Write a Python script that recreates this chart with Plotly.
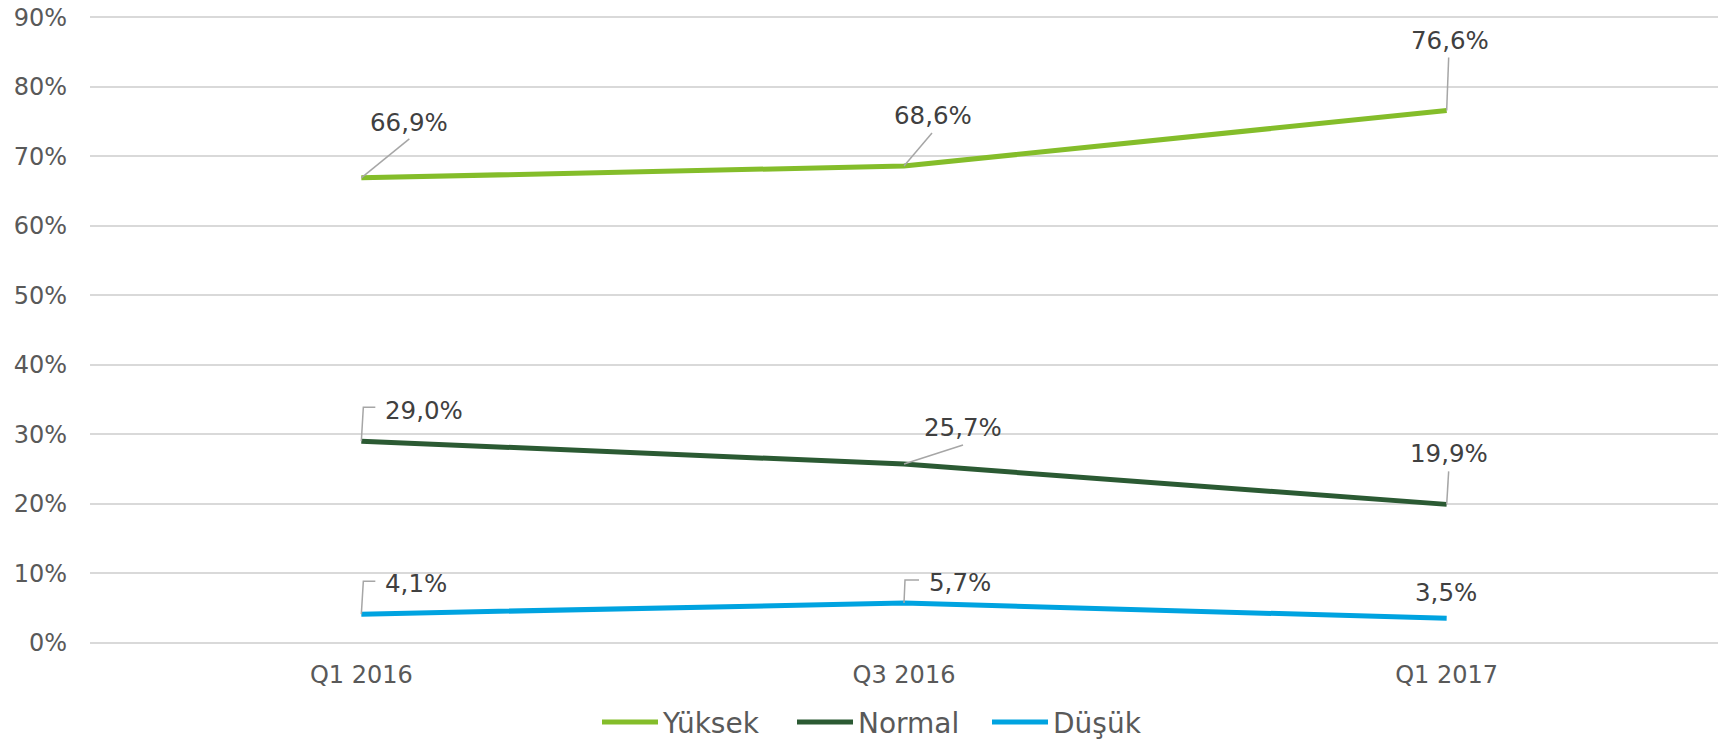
import plotly.graph_objects as go

categories = ["Q1 2016", "Q3 2016", "Q1 2017"]
yuksek = [66.9, 68.6, 76.6]
normal = [29.0, 25.7, 19.9]
dusuk = [4.1, 5.7, 3.5]
series_names = ["Yüksek", "Normal", "Düşük"]
series_colors = ["#84BD2A", "#2B5A33", "#00A3E0"]
y_ticks = [0, 10, 20, 30, 40, 50, 60, 70, 80, 90]
y_tick_labels = [f"{v}%" for v in y_ticks]

def fmt(v):
    return f"{v:.1f}".replace(".", ",") + "%"

fig = go.Figure()
all_series = [yuksek, normal, dusuk]
for name, vals, col in zip(series_names, all_series, series_colors):
    fig.add_trace(go.Scatter(
        x=categories, y=vals, mode="lines", name=name,
        line=dict(color=col, width=5),
        hoverinfo="skip",
    ))

# label offsets (text center, px) and leader paths (px, y up)
label_cfg = {
    0: [((48, 55), "M0,0 L48,39"), ((29, 51), "M0,0 L28,33"), ((3, 70), "M0,0 L2,53")],
    1: [((63, 31), "M0,0 L2,34 L14,34"), ((59, 37), "M0,0 L59,19"), ((2, 51), "M0,0 L2,33")],
    2: [((55, 31), "M0,0 L2,33 L14,33"), ((56, 21), "M0,0 L1,23 L15,23"), ((-1, 26), None)],
}

for si, vals in enumerate(all_series):
    for ci, v in enumerate(vals):
        (dx, dy), path = label_cfg[si][ci]
        fig.add_annotation(
            x=categories[ci], y=v, text=fmt(v), showarrow=False,
            xshift=dx, yshift=dy, xanchor="center", yanchor="middle",
            font=dict(family="DejaVu Sans", size=24.5, color="#404040"),
        )
        if path:
            fig.add_shape(
                type="path", xref="x", yref="y",
                xsizemode="pixel", ysizemode="pixel",
                xanchor=categories[ci], yanchor=v, path=path,
                line=dict(color="#A6A6A6", width=1.5), layer="above",
            )

fig.update_layout(
    width=1723, height=740,
    margin=dict(l=90, r=5, t=15.6, b=95.6, autoexpand=False),
    paper_bgcolor="white", plot_bgcolor="white",
    font=dict(family="DejaVu Sans", size=24, color="#595959"),
    showlegend=True,
    legend=dict(
        orientation="h", xref="container", yref="container",
        x=597 / 1723, xanchor="left", y=0.024, yanchor="middle",
        font=dict(family="DejaVu Sans", size=28, color="#595959"),
        itemwidth=56, entrywidth=124, entrywidthmode="pixels",
        tracegroupgap=0,
    ),
)
fig.update_xaxes(
    type="category", range=[-0.5, 2.5], showgrid=False, zeroline=False,
    showline=False, ticks="", tickfont=dict(size=24, color="#595959"),
    ticklabelstandoff=14,
)
fig.update_yaxes(
    range=[-0.2, 90.2], tickvals=y_ticks, ticktext=y_tick_labels,
    showgrid=True, gridcolor="#D9D9D9", gridwidth=1.5,
    zeroline=False, showline=False, ticks="",
    tickfont=dict(size=24, color="#595959"), ticklabelstandoff=22,
)

fig.write_html(
    "out.html",
    config={"displayModeBar": False},
    post_script="document.body.style.margin='0px';",
)
